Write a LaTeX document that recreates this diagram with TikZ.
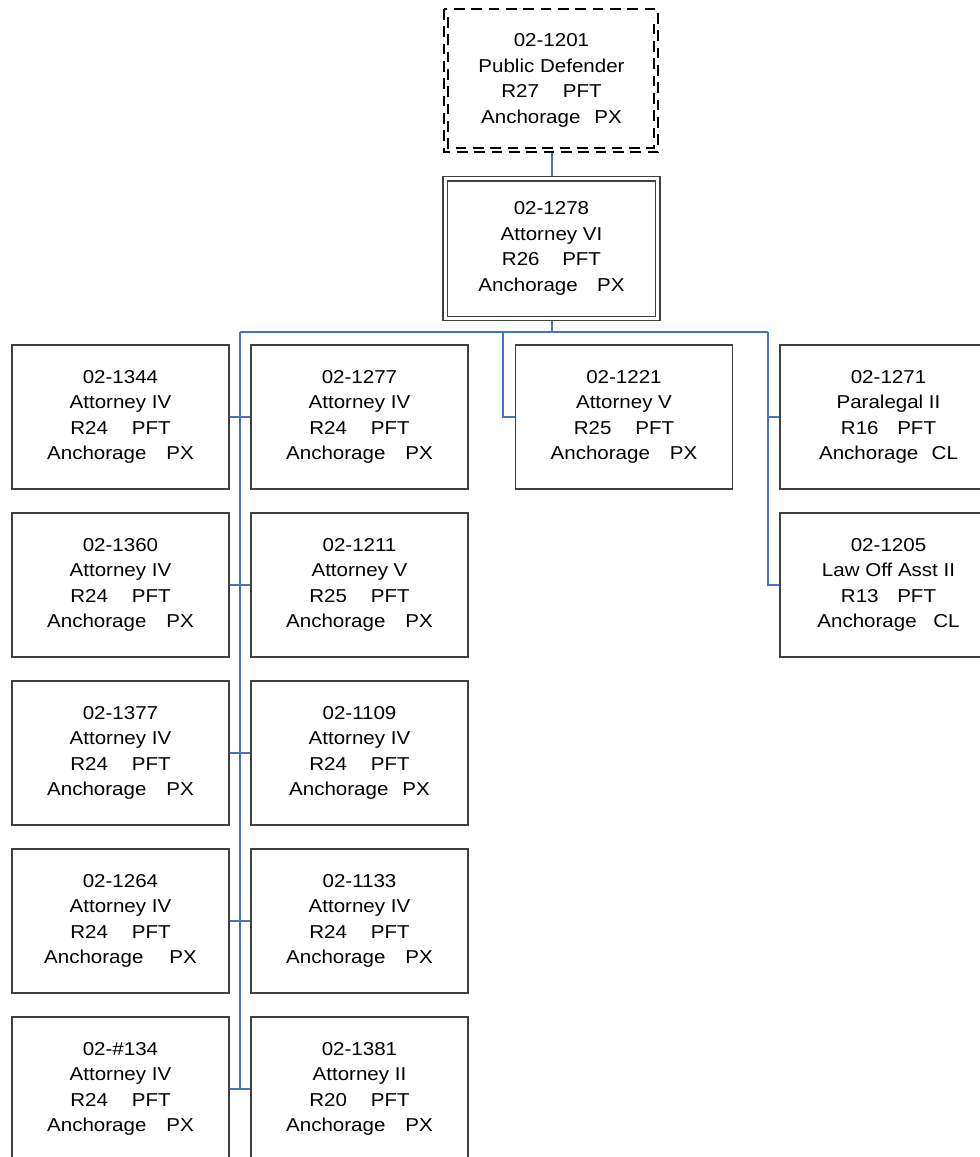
\documentclass[tikz,border=0pt]{standalone}
\usepackage{fontspec}
\setmainfont{Liberation Sans}[FakeStretch=1.1]
\usetikzlibrary{calc}
\begin{document}
\begin{tikzpicture}[x=0.75pt,y=-0.75pt,
  posbox/.style={draw=black!75,line width=0.85pt,minimum width=162.75pt,minimum height=108pt,
    inner sep=0pt,align=center,font=\fontsize{14}{19.2}\selectfont},
  conn/.style={draw={rgb,255:red,68;green,114;blue,196},line width=1.5pt}]
\useasboundingbox (0,0) rectangle (980,1157);
\clip (0,0) rectangle (980,1157);
\newcommand\ptxt[7]{#1\\#2\\#3\hspace{#4pt}PFT\\Anchorage\hspace{#6pt}#5}
% top box
\node[posbox,draw=none] (pd) at (551.5,80.5) {\ptxt{02-1201}{Public Defender}{R27}{18}{PX}{10.5}{}};
\draw[line width=1.7pt,dash pattern=on 8pt off 5pt] (444,9) rectangle (658,152);
\draw[line width=1.2pt,dash pattern=on 8pt off 5pt] (448,17) -- (448,148) -- (654,148) -- (654,17);
% second box
\node[posbox] (a6) at (551.5,248.5) {\ptxt{02-1278}{Attorney VI}{R26}{17}{PX}{14.5}{}};
\draw[draw=black!75,line width=0.85pt] ($(a6.south west)+(5,-5)$) rectangle ($(a6.north east)+(-5,5)$);
% left columns
\node[posbox] (c1) at (120.5,417) {\ptxt{02-1344}{Attorney IV}{R24}{18}{PX}{15}{}};
\node[posbox] (c2) at (120.5,585) {\ptxt{02-1360}{Attorney IV}{R24}{18}{PX}{15}{}};
\node[posbox] (c3) at (120.5,753) {\ptxt{02-1377}{Attorney IV}{R24}{18}{PX}{15}{}};
\node[posbox] (c4) at (120.5,921) {\ptxt{02-1264}{Attorney IV}{R24}{18}{PX}{19.5}{}};
\node[posbox] (c5) at (120.5,1089) {\ptxt{02-\#134}{Attorney IV}{R24}{18}{PX}{15}{}};
\node[posbox] (d1) at (359.5,417) {\ptxt{02-1277}{Attorney IV}{R24}{18}{PX}{15}{}};
\node[posbox] (d2) at (359.5,585) {\ptxt{02-1211}{Attorney V}{R25}{18}{PX}{15}{}};
\node[posbox] (d3) at (359.5,753) {\ptxt{02-1109}{Attorney IV}{R24}{18}{PX}{10.5}{}};
\node[posbox] (d4) at (359.5,921) {\ptxt{02-1133}{Attorney IV}{R24}{18}{PX}{15}{}};
\node[posbox] (d5) at (359.5,1089) {\ptxt{02-1381}{Attorney II}{R20}{18}{PX}{15}{}};
% middle
\node[posbox] (m1) at (624,417) {\ptxt{02-1221}{Attorney V}{R25}{18}{PX}{15}{}};
% right
\node[posbox] (r1) at (888.5,417) {\ptxt{02-1271}{Paralegal II}{R16}{14}{CL}{10}{}};
\node[posbox] (r2) at (888.5,585) {\ptxt{02-1205}{Law Off Asst II}{R13}{14}{CL}{12.5}{}};
% connectors
\coordinate (busL) at (240,332);
\coordinate (busM) at (503,332);
\coordinate (busR) at (768,332);
\coordinate (spineEnd) at (240,1089);
\draw[conn] (pd.south) -- (a6.north);
\draw[conn] (a6.south) -- (a6.south |- busL);
\draw[conn] (busL) -- (busR);
\draw[conn] (busL) -- (spineEnd);
\draw[conn] (c1.east) -- (d1.west);
\draw[conn] (c2.east) -- (d2.west);
\draw[conn] (c3.east) -- (d3.west);
\draw[conn] (c4.east) -- (d4.west);
\draw[conn] (c5.east) -- (d5.west);
\draw[conn] (busM) |- (m1.west);
\draw[conn] (busR) |- (r1.west);
\draw[conn] (busR) |- (r2.west);
\end{tikzpicture}
\end{document}
